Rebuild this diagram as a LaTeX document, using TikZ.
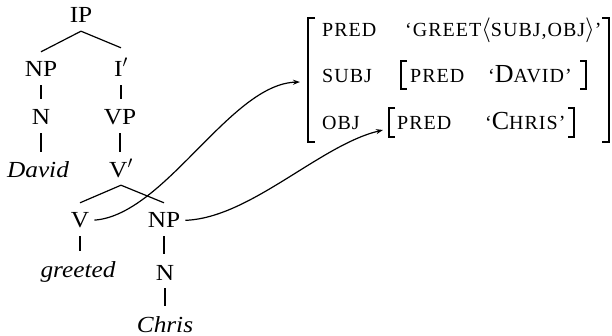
\documentclass[tikz,border=0pt]{standalone}
\usepackage{fontspec}
\setmainfont{Liberation Serif}[FakeStretch=1.1]
\newfontfamily\fsfont{Liberation Serif}[LetterSpace=5]
\usetikzlibrary{arrows.meta}
\tikzset{
  lab/.style={font=\fontsize{23}{23}\selectfont, inner sep=0pt, text height=15pt, text depth=0pt, anchor=base},
  word/.style={lab, font=\fontsize{23}{23}\selectfont\itshape},
  branch/.style={line width=1.2pt},
  vline/.style={line width=1.2pt, shorten <=8pt, shorten >=11pt},
  link/.style={line width=1.2pt, shorten <=5pt, -{Stealth[length=7pt,width=5pt]}},
  brk/.style={line width=1.7pt},
  fs/.style={inner sep=0pt, anchor=base west, font=\fsfont\fontsize{20}{20}\selectfont},
}
\newcommand{\bigc}[1]{{\fontsize{26}{26}\selectfont #1}}
\begin{document}
\begin{tikzpicture}[x=1pt,y=-1pt]
\useasboundingbox (0,0) rectangle (612,336);
% c-structure
\node[lab] (IP) at (81,23) {IP};
\node[lab] (NP) at (41,77) {NP};
\node[lab] (Ib) at (121,77) {I$'$};
\node[lab] (N) at (41,125) {N};
\node[lab] (VP) at (120,125) {VP};
\node[word] (David) at (38,178) {David};
\node[lab] (Vb) at (121,178) {V$'$};
\node[lab] (V) at (80,228) {V};
\node[lab] (NP2) at (164,228) {NP};
\node[word] (greeted) at (78,277) {greeted};
\node[lab] (N2) at (165,280) {N};
\node[word] (Chris) at (165,332) {Chris};
\draw[branch] ([yshift=-8pt]IP.south) -- ([yshift=10pt]NP.north);
\draw[branch] ([yshift=-8pt]IP.south) -- ([yshift=14pt]Ib.north);
\draw[vline] (NP.south) -- (NP.south |- N.north);
\draw[vline] (Ib.south) -- (Ib.south |- VP.north);
\draw[vline] (N.south) -- (N.south |- David.north);
\draw[vline] (VP.south) -- (VP.south |- Vb.north);
\draw[branch] ([yshift=-7pt]Vb.south) -- ([yshift=10pt]V.north);
\draw[branch] ([yshift=-7pt]Vb.south) -- ([yshift=10pt]NP2.north);
\draw[vline] (V.south) -- (V.south |- greeted.north);
\draw[vline] (NP2.south) -- (NP2.south |- N2.north);
\draw[vline] (N2.south) -- (N2.south |- Chris.north);
% f-structure
\node[fs] (p1) at (322,37) {PRED};
\node[fs] (g1) at (405,37) {‘GREET\bigc{$\langle$}SUBJ,OBJ\bigc{$\rangle$}’};
\node[fs] (s2) at (322,83) {SUBJ};
\node[fs] (p2) at (410,83) {PRED};
\node[fs] (d2) at (488,83) {‘\bigc{D}AVID’};
\node[fs] (o3) at (322,130) {OBJ};
\node[fs] (p3) at (397,130) {PRED};
\node[fs] (c3) at (485,130) {‘\bigc{C}HRIS’};
\draw[brk] (315,18) -- (308,18) -- (308,142) -- (315,142);
\draw[brk] (602,18) -- (609,18) -- (609,142) -- (602,142);
\draw[brk] (407,61) -- (401,61) -- (401,89) -- (407,89);
\draw[brk] (580,61) -- (586,61) -- (586,89) -- (580,89);
\draw[brk] (395,108) -- (389,108) -- (389,137) -- (395,137);
\draw[brk] (568,108) -- (574,108) -- (574,137) -- (568,137);
\coordinate (fsubj) at (300,82);
\coordinate (fobj) at (383,130);
\draw[link] (V.east) .. controls (165,215) and (230,84) .. (fsubj);
\draw[link] (NP2.east) .. controls (250,218) and (320,145) .. (fobj);
\end{tikzpicture}
\end{document}
